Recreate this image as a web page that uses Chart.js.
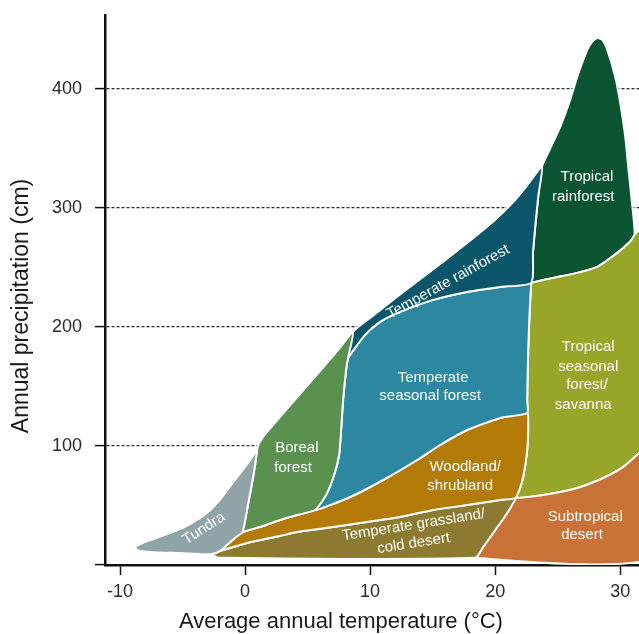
<!DOCTYPE html>
<html>
<head>
<meta charset="utf-8">
<title>Biomes by temperature and precipitation</title>
<script src="https://cdn.jsdelivr.net/npm/chart.js@4.4.1/dist/chart.umd.min.js"></script>
<style>
  html, body { margin: 0; padding: 0; background: #fff; }
  #wrap { width: 639px; height: 634px; }
</style>
</head>
<body>
<div id="wrap"><canvas id="biome-chart" width="639" height="634"></canvas></div>
<script>
// biome outlines: average temperature (°C) / precipitation (cm)
const tundraTemp = [1.0, 0.6, -0.4, -1.2, -2.0, -3.0, -3.8, -5.0, -6.0, -7.0, -8.2, -8.8, -8.6, -7.6, -5.2, -2.7, -2.0, -1.36, -0.72, -0.2, 0.2, 0.6, 0.8, 1.0];
const tundraPrecip = [99, 91, 77, 66, 55, 44, 38, 31, 27, 23, 18.5, 15, 12.5, 11, 10, 9, 11.8, 17.6, 23.5, 27.7, 48.7, 71.4, 84, 99];

const borealTemp = [-0.2, 0.2, 0.6, 0.8, 1.0, 1.44, 2.6, 3.8, 5.0, 6.2, 7.4, 8.64, 8.24, 8.08, 7.84, 7.68, 7.52, 7.12, 6.48, 5.6, 4.16, 2.8, 1.44, -0.2];
const borealPrecip = [27.7, 48.7, 71.4, 84, 99, 107.6, 122, 136.5, 151, 165.5, 180, 195.8, 174, 163.9, 138.7, 113.4, 92.4, 75.6, 58.8, 46.2, 42, 37.8, 32.8, 27.7];

const tempRainTemp = [8.24, 8.64, 10, 12, 14, 16, 18, 20, 21.5, 22.6, 23.74, 23.44, 23.2, 23.02, 22.88, 20.4, 17.76, 15.04, 12.4, 10.8, 9.6, 8.8, 8.24];
const tempRainPrecip = [174, 195.8, 207.5, 224, 240, 256, 272.5, 290, 305.5, 319.5, 334.7, 309.2, 284, 262.2, 237, 233.6, 229.4, 222.7, 212.6, 204.2, 193.3, 182.4, 174];

const tempSeasonalTemp = [22.88, 20.4, 17.76, 15.04, 12.4, 10.8, 9.6, 8.8, 8.24, 8.08, 7.84, 7.68, 7.52, 7.12, 6.48, 5.6, 8.4, 11.04, 13.76, 15.6, 17.76, 20.4, 22.56, 22.56, 22.64, 22.76, 22.88];
const tempSeasonalPrecip = [237, 233.6, 229.4, 222.7, 212.6, 204.2, 193.3, 182.4, 174, 163.9, 138.7, 113.4, 92.4, 75.6, 58.8, 46.2, 57.1, 71.4, 88.2, 100.8, 113.4, 123.5, 127.7, 138.7, 180.7, 214.3, 237];

const woodlandTemp = [-2.0, -1.36, -0.72, -0.2, 1.44, 2.8, 4.16, 5.6, 8.4, 11.04, 13.76, 15.6, 17.76, 20.4, 22.56, 22.64, 22.56, 22.24, 21.84, 21.6, 20.4, 17.76, 15.04, 12.4, 9.76, 7.04, 4.16, 2.8, 0.16, -1.2, -2.0];
const woodlandPrecip = [11.8, 17.6, 23.5, 27.7, 32.8, 37.8, 42, 46.2, 57.1, 71.4, 88.2, 100.8, 113.4, 123.5, 127.7, 117.6, 96.6, 73.9, 60.5, 56, 54.6, 50.4, 46.2, 40.3, 36.1, 31.9, 27.7, 24.4, 18.5, 14.3, 11.8];

const grasslandTemp = [-2.7, -2.0, -1.2, 0.16, 2.8, 4.16, 7.04, 9.76, 12.4, 15.04, 17.76, 20.4, 21.6, 20.96, 19.84, 19.04, 18.4, -2.1, -2.7];
const grasslandPrecip = [9, 11.8, 14.3, 18.5, 24.4, 27.7, 31.9, 36.1, 40.3, 46.2, 50.4, 54.6, 56, 43.7, 26.9, 15.1, 6, 6, 9];

const desertTemp = [21.6, 23.84, 26.56, 28.64, 30.24, 31.52, 32.4, 32.4, 18.4, 19.04, 19.84, 20.96, 21.6];
const desertPrecip = [56, 58.8, 64.7, 73.1, 82.4, 94.1, 103.4, 6, 6, 15.1, 26.9, 43.7, 56];

const savannaTemp = [22.88, 24.64, 26.56, 28.16, 29.76, 30.8, 31.15, 31.52, 32.4, 32.4, 31.52, 30.24, 28.64, 26.56, 23.84, 21.6, 21.84, 22.24, 22.56, 22.64, 22.56, 22.56, 22.64, 22.76, 22.88];
const savannaPrecip = [237, 241.2, 245.4, 250.4, 262.2, 271.7, 277.3, 281.5, 290, 103.4, 94.1, 82.4, 73.1, 64.7, 58.8, 56, 60.5, 73.9, 96.6, 117.6, 127.7, 138.7, 180.7, 214.3, 237];

const tropRainTemp = [22.88, 23.02, 23.2, 23.44, 23.74, 24.24, 25.2, 26.0, 26.56, 27.36, 27.76, 28.16, 28.56, 28.96, 29.6, 30.0, 30.4, 30.66, 30.94, 31.15, 30.8, 29.76, 28.16, 26.56, 24.64, 22.88];
const tropRainPrecip = [237, 262.2, 284, 309.2, 334.7, 346.2, 368, 390.8, 410, 432.8, 439.5, 442.6, 441.2, 432.8, 410, 388.2, 359.7, 332, 304.2, 277.3, 271.7, 262.2, 250.4, 245.4, 241.2, 237];

// biome name text and where it sits (temperature, precipitation, angle)
const labelText = ['Tundra', 'Boreal', 'forest', 'Temperate rainforest', 'Temperate', 'seasonal forest',
  'Tropical', 'rainforest', 'Tropical', 'seasonal', 'forest/', 'savanna', 'Woodland/', 'shrubland',
  'Temperate grassland/', 'cold desert', 'Subtropical', 'desert'];
const labelTemp = [-3.28, 4.14, 3.84, 16.24, 15.04, 14.8, 27.34, 27.04, 27.44, 27.44, 27.34, 27.04, 17.6, 17.2, 13.48, 13.48, 27.2, 26.94];
const labelPrecip = [30.7, 98.1, 81.5, 237.8, 157.4, 142, 326.3, 309.5, 183.4, 166.6, 151.3, 134.5, 82.1, 66.4, 33.6, 18.1, 40.6, 25.2];
const labelAngle = [-33, 0, 0, -29, 0, 0, 0, 0, 0, 0, 0, 0, 0, 0, -9, -9, 0, 0];

const xTicks = [-10, 0, 10, 20, 30];
const yTicks = [100, 200, 300, 400];

const FONT = '"Liberation Sans", Arial, Helvetica, sans-serif';

const toPoints = (temps, precips) => temps.map((t, i) => ({ x: t, y: precips[i] }));

const regions = [
  { name: 'Tundra', temp: tundraTemp, precip: tundraPrecip, color: '#8fa3a8' },
  { name: 'Boreal forest', temp: borealTemp, precip: borealPrecip, color: '#5a9150' },
  { name: 'Temperate rainforest', temp: tempRainTemp, precip: tempRainPrecip, color: '#0c566b' },
  { name: 'Temperate seasonal forest', temp: tempSeasonalTemp, precip: tempSeasonalPrecip, color: '#2c88a0' },
  { name: 'Woodland/shrubland', temp: woodlandTemp, precip: woodlandPrecip, color: '#b47a08' },
  { name: 'Temperate grassland/cold desert', temp: grasslandTemp, precip: grasslandPrecip, color: '#8d7a30' },
  { name: 'Subtropical desert', temp: desertTemp, precip: desertPrecip, color: '#c87238' },
  { name: 'Tropical seasonal forest/savanna', temp: savannaTemp, precip: savannaPrecip, color: '#97a628' },
  { name: 'Tropical rainforest', temp: tropRainTemp, precip: tropRainPrecip, color: '#0a5431' },
];

const datasets = regions.map((r) => ({
  label: r.name,
  data: toPoints(r.temp, r.precip),
  backgroundColor: r.color,
  borderColor: '#ffffff',
  borderWidth: 2,
  borderJoinStyle: 'round',
  fill: 'shape',
  tension: 0.2,
  pointRadius: 0,
}));

// region names, drawn on top of the shapes
const biomeLabels = {
  id: 'biomeLabels',
  afterDatasetsDraw(chart) {
    const { ctx, scales: { x, y } } = chart;
    ctx.save();
    ctx.font = '15px ' + FONT;
    ctx.fillStyle = '#ffffff';
    ctx.textAlign = 'center';
    ctx.textBaseline = 'middle';
    labelText.forEach((txt, i) => {
      ctx.save();
      ctx.translate(x.getPixelForValue(labelTemp[i]), y.getPixelForValue(labelPrecip[i]));
      ctx.rotate(labelAngle[i] * Math.PI / 180);
      ctx.fillText(txt, 0, 0);
      ctx.restore();
    });
    ctx.restore();
  },
};

// axis titles (placed like the original, a little off-centre)
const axisTitles = {
  id: 'axisTitles',
  afterDraw(chart) {
    const { ctx, chartArea } = chart;
    ctx.save();
    ctx.fillStyle = '#1a1a1a';
    ctx.textAlign = 'center';
    ctx.textBaseline = 'middle';
    ctx.font = '22px ' + FONT;
    ctx.fillText('Average annual temperature (°C)', chartArea.left + 236, chart.height - 12);
    ctx.translate(22, chartArea.bottom - 259);
    ctx.rotate(-Math.PI / 2);
    ctx.font = '23px ' + FONT;
    ctx.fillText('Annual precipitation (cm)', 0, 0);
    ctx.restore();
  },
};

const ctx = document.getElementById('biome-chart').getContext('2d');

new Chart(ctx, {
  type: 'line',
  data: { datasets },
  options: {
    responsive: false,
    devicePixelRatio: 1,
    animation: false,
    events: [],
    layout: { padding: { top: 15, right: 0, bottom: 0, left: 0 } },
    plugins: {
      legend: { display: false },
      tooltip: { enabled: false },
    },
    scales: {
      x: {
        type: 'linear',
        min: -11.2,
        max: 31.5,
        afterFit: (s) => {
          s.height = 69;
          s.paddingLeft = 0;
          s.paddingRight = 0;
        },
        afterBuildTicks: (s) => { s.ticks = xTicks.map((v) => ({ value: v })); },
        border: { color: '#111', width: 2.5 },
        grid: { drawOnChartArea: false, tickLength: 10, tickColor: '#111', tickWidth: 1.5 },
        ticks: {
          padding: 6,
          color: '#2b2b2b',
          font: { family: FONT, size: 18 },
          maxRotation: 0,
          autoSkip: false,
        },
      },
      y: {
        min: 0,
        max: 462,
        afterFit: (s) => {
          s.width = 105;
          s.paddingTop = 0;
          s.paddingBottom = 0;
        },
        afterBuildTicks: (s) => { s.ticks = [0].concat(yTicks).map((v) => ({ value: v })); },
        border: { color: '#111', width: 2.5, dash: [3, 2] },
        grid: {
          color: (c) => (c.tick && c.tick.value === 0 ? 'rgba(0,0,0,0)' : '#2a2a2a'),
          lineWidth: 1.2,
          tickLength: 10,
          tickColor: '#111',
          tickWidth: 1.5,
        },
        ticks: {
          padding: 13,
          color: '#2b2b2b',
          font: { family: FONT, size: 18 },
          callback: (v) => (v === 0 ? '' : v),
        },
      },
    },
  },
  plugins: [biomeLabels, axisTitles],
});
</script>
</body>
</html>
